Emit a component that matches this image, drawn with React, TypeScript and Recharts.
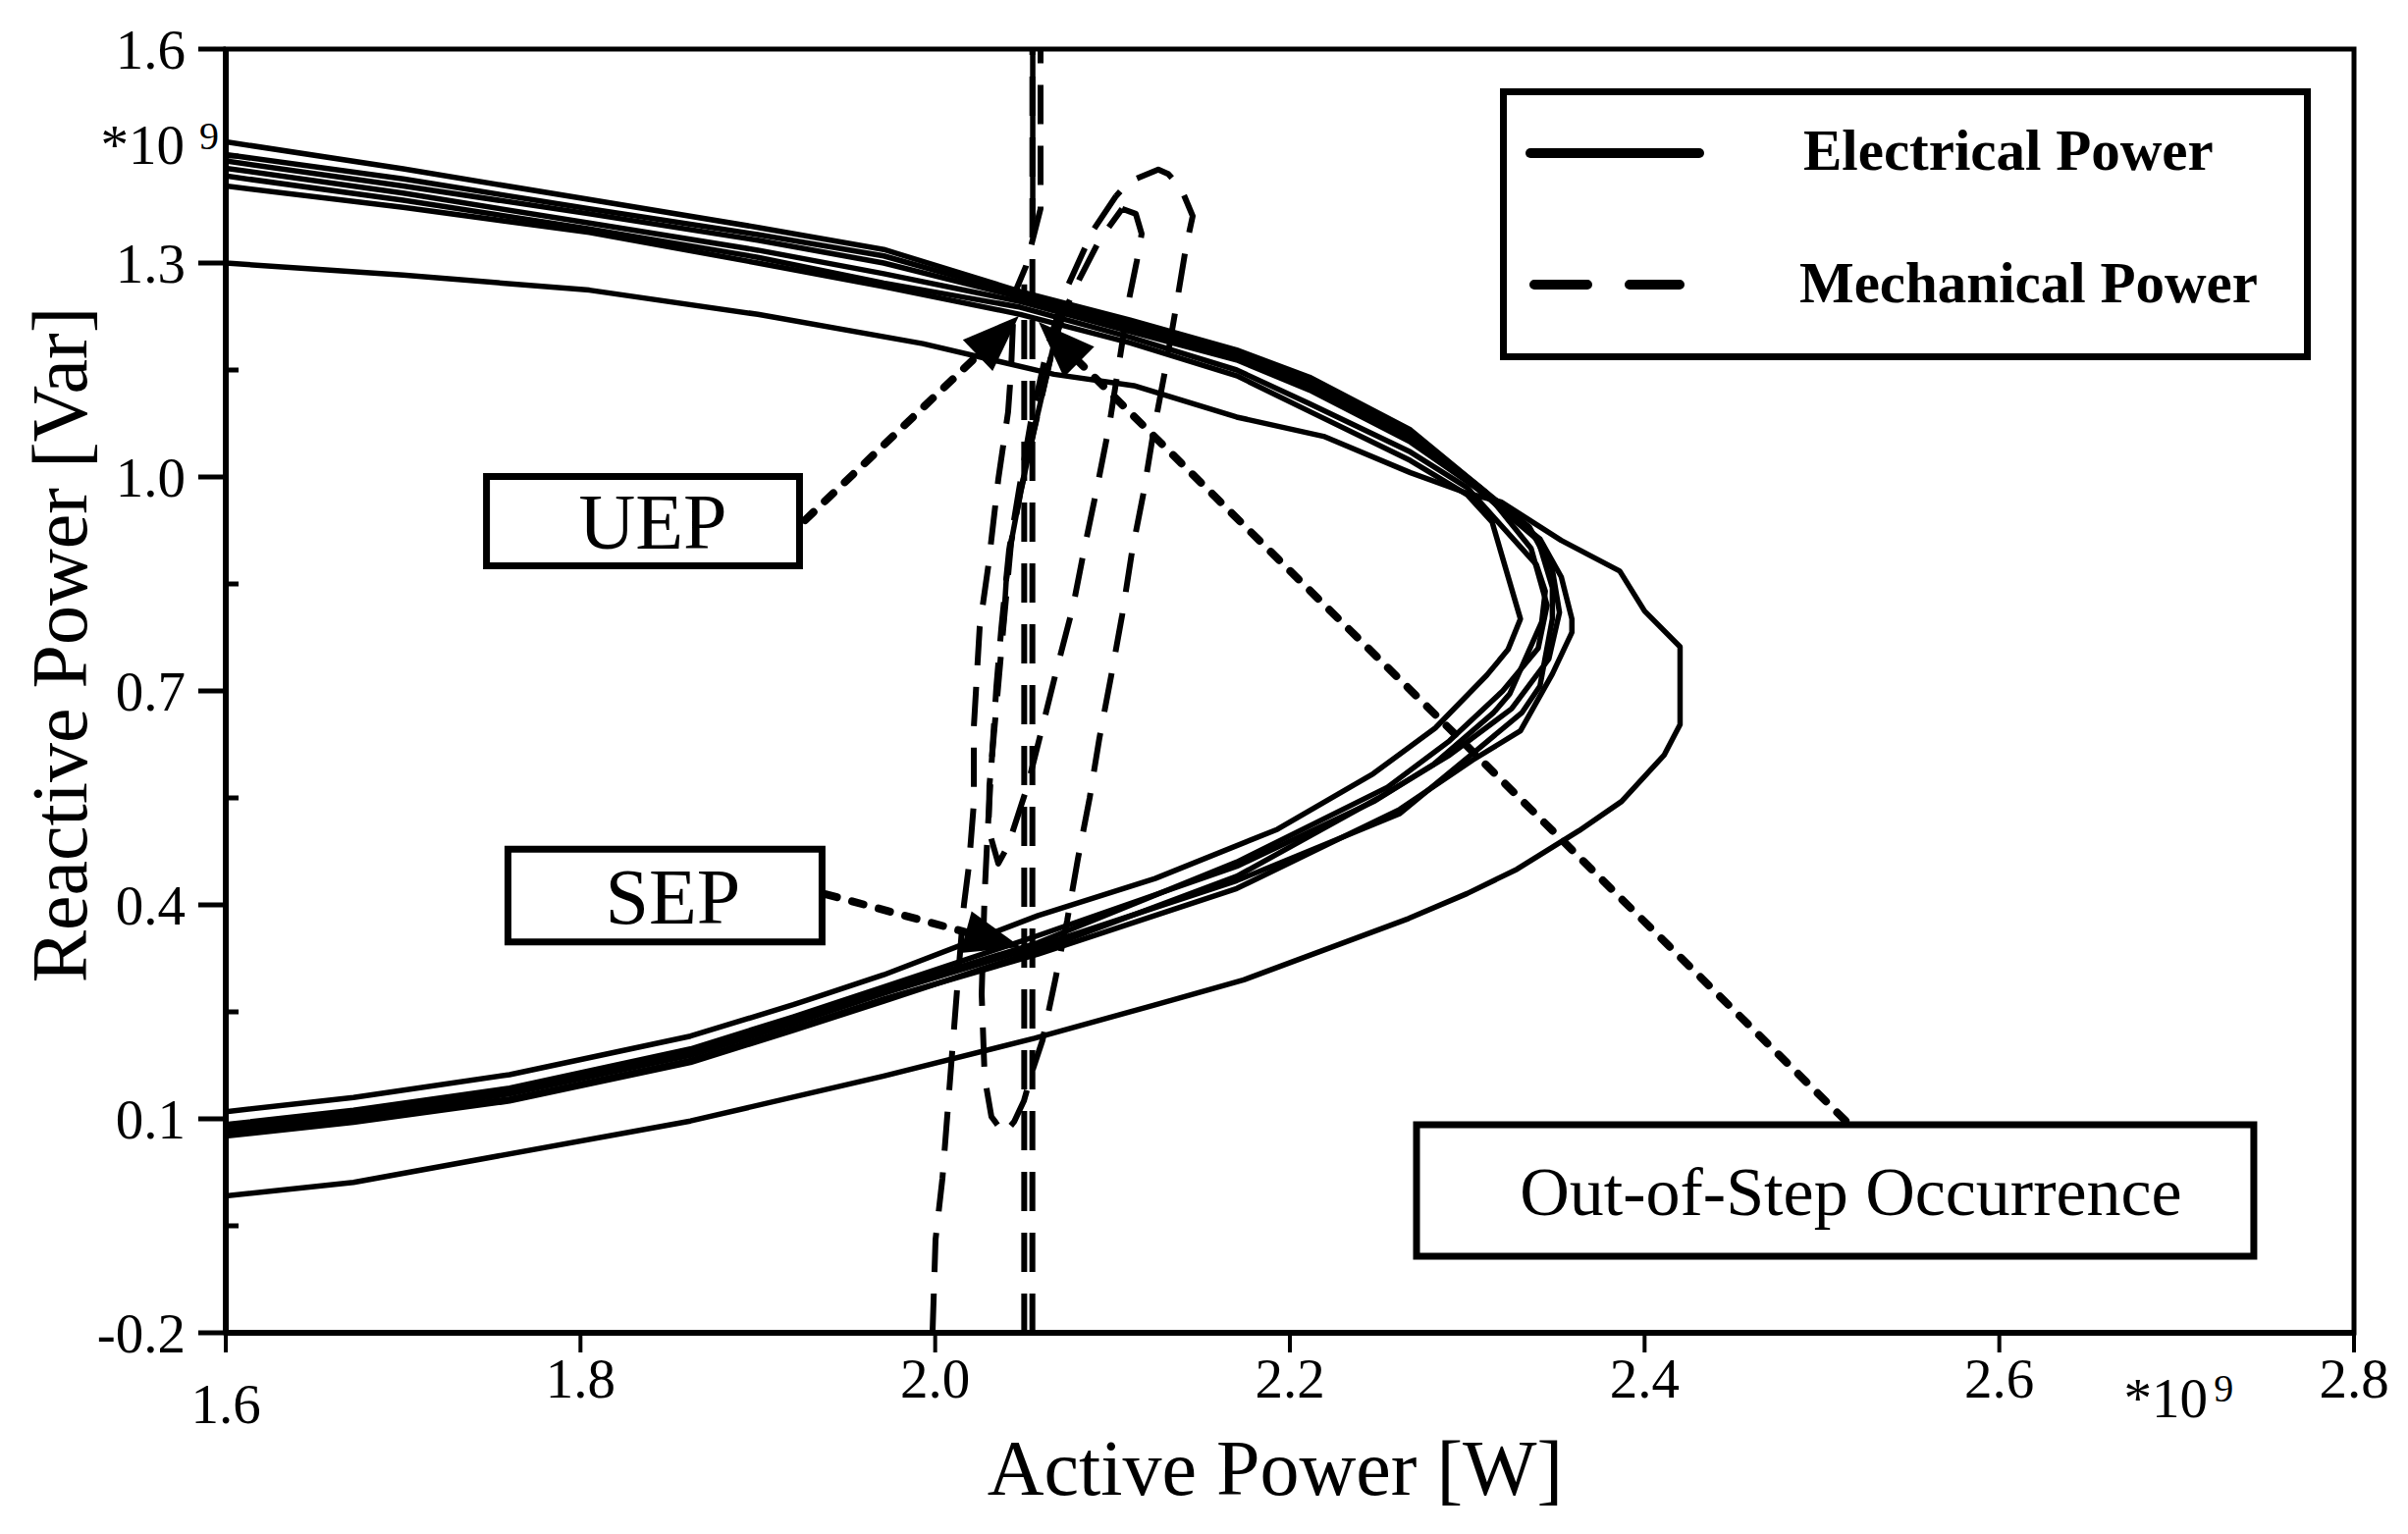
import React from "react";
import {
  LineChart,
  Line,
  XAxis,
  YAxis,
  ReferenceArea,
  ReferenceLine,
  ReferenceDot,
  Legend,
} from "recharts";

const FONT = '"Liberation Serif", "Times New Roman", serif';

// axis ticks (values are in units of 1e9)
const xTicks = [1.6, 1.8, 2.0, 2.2, 2.4, 2.6, 2.8];
const yMajorTicks = [-0.2, 0.1, 0.4, 0.7, 1.0, 1.3, 1.6];
const yMinorTicks = [-0.05, 0.25, 0.55, 0.85, 1.15, 1.45];
const yTicks = [...yMajorTicks, ...yMinorTicks].sort((a, b) => a - b);

// electrical power trajectories, [P, Q]
const elecOuter = [
  [1.6, 1.3], [1.7, 1.283], [1.805, 1.262], [1.9, 1.228], [1.993, 1.187], [2.067, 1.144],
  [2.112, 1.128], [2.17, 1.084], [2.219, 1.057], [2.268, 1.006], [2.299, 0.978], [2.319, 0.965],
  [2.353, 0.911], [2.386, 0.868], [2.4, 0.812], [2.42, 0.762], [2.42, 0.653], [2.411, 0.61],
  [2.387, 0.545], [2.363, 0.504], [2.328, 0.45], [2.3, 0.416], [2.267, 0.381], [2.174, 0.295],
  [2.123, 0.259], [2.056, 0.213], [1.971, 0.16], [1.862, 0.097], [1.672, 0.011], [1.6, -0.008],
];
const elecCurve1 = [
  [1.6, 1.408], [1.7, 1.378], [1.805, 1.343], [1.9, 1.3], [1.971, 1.267], [2.048, 1.228],
  [2.11, 1.188], [2.17, 1.142], [2.211, 1.092], [2.268, 1.023], [2.3, 0.975], [2.314, 0.937],
  [2.33, 0.801], [2.323, 0.758], [2.311, 0.722], [2.282, 0.648], [2.247, 0.584], [2.193, 0.506],
  [2.124, 0.437], [2.058, 0.385], [1.971, 0.302], [1.92, 0.26], [1.862, 0.216], [1.76, 0.162],
  [1.672, 0.13], [1.6, 0.11],
];
const elecCurve2 = [
  [1.6, 1.422], [1.7, 1.388], [1.805, 1.348], [1.9, 1.308], [1.971, 1.272], [2.048, 1.238],
  [2.11, 1.196], [2.17, 1.15], [2.211, 1.103], [2.268, 1.035], [2.3, 0.985], [2.339, 0.877],
  [2.344, 0.84], [2.342, 0.797], [2.324, 0.696], [2.315, 0.67], [2.281, 0.597], [2.248, 0.546],
  [2.17, 0.454], [2.058, 0.357], [1.971, 0.285], [1.92, 0.243], [1.862, 0.198], [1.76, 0.143],
  [1.672, 0.112], [1.6, 0.092],
];
const elecCurve3 = [
  [1.6, 1.433], [1.7, 1.398], [1.805, 1.356], [1.9, 1.318], [1.971, 1.285], [2.048, 1.246],
  [2.11, 1.204], [2.17, 1.164], [2.211, 1.122], [2.268, 1.049], [2.305, 0.985], [2.34, 0.911],
  [2.348, 0.845], [2.348, 0.801], [2.341, 0.707], [2.331, 0.67], [2.303, 0.612], [2.262, 0.528],
  [2.17, 0.434], [2.058, 0.342], [1.971, 0.276], [1.92, 0.234], [1.862, 0.189], [1.76, 0.135],
  [1.672, 0.104], [1.6, 0.085],
];
const elecCurve4 = [
  [1.6, 1.443], [1.7, 1.408], [1.805, 1.369], [1.9, 1.332], [1.971, 1.3], [2.048, 1.252],
  [2.11, 1.21], [2.17, 1.168], [2.211, 1.128], [2.268, 1.055], [2.31, 0.975], [2.341, 0.913],
  [2.353, 0.86], [2.359, 0.801], [2.359, 0.782], [2.348, 0.724], [2.33, 0.644], [2.303, 0.603],
  [2.262, 0.534], [2.17, 0.423], [2.058, 0.331], [1.971, 0.268], [1.92, 0.227], [1.862, 0.182],
  [1.76, 0.128], [1.672, 0.098], [1.6, 0.08],
];
const elecCurve5 = [
  [1.6, 1.452], [1.7, 1.418], [1.805, 1.376], [1.9, 1.34], [1.971, 1.31], [2.048, 1.256],
  [2.11, 1.214], [2.17, 1.173], [2.211, 1.135], [2.268, 1.062], [2.305, 0.99], [2.335, 0.93],
  [2.348, 0.87], [2.352, 0.81], [2.346, 0.745], [2.325, 0.675], [2.29, 0.61], [2.25, 0.55],
  [2.17, 0.44], [2.058, 0.336], [1.971, 0.265], [1.92, 0.224], [1.862, 0.179], [1.76, 0.125],
  [1.672, 0.095], [1.6, 0.076],
];
const elecCurve6 = [
  [1.6, 1.47], [1.7, 1.432], [1.805, 1.389], [1.9, 1.35], [1.971, 1.319], [2.048, 1.26],
  [2.11, 1.22], [2.17, 1.178], [2.211, 1.14], [2.268, 1.066], [2.31, 0.98], [2.336, 0.9],
  [2.345, 0.82], [2.34, 0.76], [2.32, 0.7], [2.29, 0.63], [2.255, 0.565], [2.17, 0.46],
  [2.058, 0.347], [1.971, 0.28], [1.92, 0.238], [1.862, 0.193], [1.76, 0.139], [1.672, 0.108],
  [1.6, 0.088],
];
const elecRise = [
  [2.0721, 1.228], [2.0666, 1.183], [2.0555, 1.063], [2.0483, 0.981], [2.0428, 0.908],
  [2.04, 0.853], [2.0384, 0.788],
];
const elecTop = [[2.055, 1.362], [2.055, 1.6]];

// mechanical power trajectories, [P, Q]
const mechLeft = [
  [1.9985, -0.2], [2.0002, -0.069], [2.0041, 0.017], [2.0096, 0.194], [2.0124, 0.283],
  [2.0162, 0.4], [2.019, 0.455], [2.0218, 0.543], [2.0218, 0.65], [2.0251, 0.79], [2.0301, 0.878],
  [2.0356, 0.997], [2.0411, 1.091], [2.0428, 1.15], [2.0445, 1.256], [2.0511, 1.295],
  [2.0594, 1.376], [2.0594, 1.6],
];
const mechLoopOuter = [
  [2.102, 1.394], [2.0888, 1.345], [2.0744, 1.266], [2.0638, 1.187], [2.0539, 1.077],
  [2.0472, 0.981], [2.0417, 0.898], [2.0373, 0.788], [2.0345, 0.706], [2.0317, 0.595],
  [2.0295, 0.499], [2.0279, 0.417], [2.0262, 0.275], [2.0279, 0.158], [2.0317, 0.103],
  [2.0389, 0.079], [2.0445, 0.096], [2.05, 0.125], [2.055, 0.169], [2.0605, 0.21],
  [2.0677, 0.295], [2.0744, 0.378], [2.0805, 0.465], [2.0871, 0.55], [2.0926, 0.634],
  [2.0993, 0.722], [2.1054, 0.806], [2.1109, 0.894], [2.1175, 0.978], [2.1231, 1.063],
  [2.1297, 1.15], [2.1358, 1.238], [2.1413, 1.321], [2.1452, 1.366], [2.1386, 1.405],
  [2.1314, 1.425], [2.1258, 1.431], [2.1092, 1.414], [2.102, 1.394],
];
const mechLoopInner = [
  [2.1054, 1.376], [2.1131, 1.369], [2.1164, 1.341], [2.1137, 1.303], [2.1092, 1.248],
  [2.1037, 1.16], [2.0982, 1.073], [2.0915, 0.988], [2.0843, 0.902], [2.0777, 0.818],
  [2.0688, 0.733], [2.0605, 0.65], [2.0522, 0.568], [2.0411, 0.483], [2.0356, 0.458],
  [2.0301, 0.506], [2.0306, 0.568], [2.0345, 0.678], [2.0384, 0.788], [2.0428, 0.908],
  [2.0483, 0.981], [2.0555, 1.063], [2.0666, 1.183], [2.0721, 1.228], [2.0816, 1.279],
  [2.0926, 1.332], [2.1054, 1.376],
];
const mechVertA = [[2.0548, -0.2], [2.0548, 1.6]];
const mechVertB = [[2.0502, -0.2], [2.0502, 1.27]];

// annotation boxes: [P1, P2, Q1, Q2]
const uepBox = [1.747, 1.9235, 0.8755, 1.0007];
const sepBox = [1.7591, 1.9362, 0.348, 0.478];
const oosBox = [2.2714, 2.7435, -0.0927, 0.0917];

// annotation arrows: [from, to]
const uepArrow = [[1.9266, 0.9394], [2.0472, 1.2257]];
const sepArrow = [[1.9382, 0.4151], [2.0483, 0.3408]];
const oosArrow = [[2.5133, 0.0973], [2.0583, 1.2174]];

const toPts = (arr: number[][]) => arr.map(([p, q]) => ({ p, q }));

const elecSeries = [elecOuter, elecCurve1, elecCurve2, elecCurve3, elecCurve4, elecCurve5, elecCurve6, elecRise, elecTop];
const mechSeries = [mechLeft, mechLoopOuter, mechLoopInner, mechVertA, mechVertB];

const YTick = (props: any) => {
  const { x, y, payload } = props;
  const v = payload.value;
  const major = yMajorTicks.some((t) => Math.abs(t - v) < 1e-6);
  if (!major) {
    return <line x1={x} y1={y} x2={x + 13} y2={y} stroke="#000" strokeWidth={5} />;
  }
  return (
    <g>
      <line x1={x - 28} y1={y} x2={x} y2={y} stroke="#000" strokeWidth={5} />
      <text x={x - 41} y={y} dy="0.35em" textAnchor="end" fontSize={57} fontFamily={FONT} fill="#000">
        {v.toFixed(1)}
      </text>
    </g>
  );
};

const XTick = (props: any) => {
  const { x, y, payload } = props;
  const v = payload.value;
  const first = Math.abs(v - 1.6) < 1e-6;
  return (
    <g>
      <line x1={x} y1={y} x2={x} y2={y + 20} stroke="#000" strokeWidth={4} />
      <text x={x} y={y + (first ? 92 : 66)} textAnchor="middle" fontSize={57} fontFamily={FONT} fill="#000">
        {v.toFixed(1)}
      </text>
    </g>
  );
};

// dashed leader with a filled arrow head at the end point
const arrowShape = (props: any) => {
  const { x1, y1, x2, y2 } = props;
  const dx = x2 - x1;
  const dy = y2 - y1;
  const len = Math.hypot(dx, dy) || 1;
  const ux = dx / len;
  const uy = dy / len;
  const bx = x2 - ux * 58;
  const by = y2 - uy * 58;
  const w = 22;
  return (
    <g>
      <line x1={x1} y1={y1} x2={bx} y2={by} stroke="#000" strokeWidth={8} strokeDasharray="12 16" strokeLinecap="round" />
      <polygon points={`${x2},${y2} ${bx - uy * w},${by + ux * w} ${bx + uy * w},${by - ux * w}`} fill="#000" />
    </g>
  );
};

const renderLegend = () => (
  <svg width={826} height={277}>
    <rect x={3.5} y={3.5} width={819} height={270} fill="#fff" stroke="#000" strokeWidth={7} />
    <line x1={31} y1={66} x2={203} y2={66} stroke="#000" strokeWidth={10} strokeLinecap="round" />
    <line x1={35} y1={200} x2={183} y2={200} stroke="#000" strokeWidth={10} strokeLinecap="round" strokeDasharray="54 43" />
    <text x={309} y={83} fontSize={59} fontWeight="bold" fontFamily={FONT} fill="#000">Electrical Power</text>
    <text x={305} y={218} fontSize={59} fontWeight="bold" fontFamily={FONT} fill="#000">Mechanical Power</text>
  </svg>
);

const boxLabel = (value: string, size: number, dx: number) => ({
  value,
  position: "center" as const,
  fontSize: size,
  fontFamily: FONT,
  fill: "#000",
  dx,
});

const App: React.FC = () => {
  return (
    <div style={{ position: "absolute", left: 0, top: 0, width: 2453, height: 1563, background: "#fff" }}>
      <LineChart width={2453} height={1563} margin={{ top: 50, right: 55, bottom: 25, left: 30 }}>
        <XAxis
          type="number"
          dataKey="p"
          domain={[1.6, 2.8]}
          ticks={xTicks}
          interval={0}
          height={180}
          tickSize={0}
          tickMargin={0}
          tickLine={false}
          tick={<XTick />}
          axisLine={{ stroke: "#000", strokeWidth: 6 }}
          allowDataOverflow
          label={(props: any) => {
            const vb = props.viewBox;
            return (
              <text x={vb.x + vb.width / 2 - 15} y={vb.y + 165} textAnchor="middle" fontSize={80} fontFamily={FONT} fill="#000">
                Active Power [W]
              </text>
            );
          }}
        />
        <YAxis
          type="number"
          dataKey="q"
          domain={[-0.2, 1.6]}
          ticks={yTicks}
          interval={0}
          width={200}
          tickSize={0}
          tickMargin={0}
          tickLine={false}
          tick={<YTick />}
          axisLine={{ stroke: "#000", strokeWidth: 6 }}
          allowDataOverflow
          label={(props: any) => {
            const vb = props.viewBox;
            const cx = vb.x + 58;
            const cy = vb.y + vb.height / 2 - 47;
            return (
              <text x={cx} y={cy} transform={`rotate(-90 ${cx} ${cy})`} textAnchor="middle" fontSize={80} fontFamily={FONT} fill="#000">
                Reactive Power [Var]
              </text>
            );
          }}
        />

        {/* plot frame */}
        <ReferenceArea x1={1.6} x2={2.8} y1={-0.2} y2={1.6} fill="none" stroke="#000" strokeWidth={5} ifOverflow="visible" />

        {/* annotation boxes */}
        <ReferenceArea x1={uepBox[0]} x2={uepBox[1]} y1={uepBox[2]} y2={uepBox[3]} fill="#fff" fillOpacity={1} stroke="#000" strokeWidth={7} label={boxLabel("UEP", 80, 10)} />
        <ReferenceArea x1={sepBox[0]} x2={sepBox[1]} y1={sepBox[2]} y2={sepBox[3]} fill="#fff" fillOpacity={1} stroke="#000" strokeWidth={7} label={boxLabel("SEP", 80, 8)} />
        <ReferenceArea x1={oosBox[0]} x2={oosBox[1]} y1={oosBox[2]} y2={oosBox[3]} fill="#fff" fillOpacity={1} stroke="#000" strokeWidth={7} label={boxLabel("Out-of-Step Occurrence", 70, 16)} />

        {elecSeries.map((s, i) => (
          <Line
            key={`e${i}`}
            data={toPts(s)}
            dataKey="q"
            type="linear"
            stroke="#000"
            strokeWidth={5.5}
            strokeLinejoin="round"
            dot={false}
            activeDot={false}
            legendType="none"
            isAnimationActive={false}
          />
        ))}
        {mechSeries.map((s, i) => (
          <Line
            key={`m${i}`}
            data={toPts(s)}
            dataKey="q"
            type="linear"
            stroke="#000"
            strokeWidth={6}
            strokeDasharray="40 22"
            strokeLinejoin="round"
            dot={false}
            activeDot={false}
            legendType="none"
            isAnimationActive={false}
          />
        ))}

        {/* leaders */}
        {[uepArrow, sepArrow, oosArrow].map((a, i) => (
          <ReferenceLine
            key={`a${i}`}
            segment={[{ x: a[0][0], y: a[0][1] }, { x: a[1][0], y: a[1][1] }]}
            shape={arrowShape}
            ifOverflow="visible"
          />
        ))}

        {/* exponent markers */}
        <ReferenceDot
          x={1.6}
          y={1.45}
          r={0}
          ifOverflow="visible"
          shape={(p: any) => (
            <g>
              <text x={p.cx - 42} y={p.cy + 8} textAnchor="end" fontSize={57} fontFamily={FONT} fill="#000">*10</text>
              <text x={p.cx - 27} y={p.cy - 7} fontSize={40} fontFamily={FONT} fill="#000">9</text>
            </g>
          )}
        />
        <ReferenceDot
          x={2.7}
          y={-0.2}
          r={0}
          ifOverflow="visible"
          shape={(p: any) => (
            <g>
              <text x={p.cx - 11} y={p.cy + 86} textAnchor="middle" fontSize={57} fontFamily={FONT} fill="#000">*10</text>
              <text x={p.cx + 38} y={p.cy + 70} fontSize={40} fontFamily={FONT} fill="#000">9</text>
            </g>
          )}
        />

        <Legend
          layout="vertical"
          verticalAlign="middle"
          align="center"
          content={renderLegend}
          wrapperStyle={{ left: 1528, top: 90, width: 826, height: 277 }}
        />
      </LineChart>
    </div>
  );
};

export default App;
